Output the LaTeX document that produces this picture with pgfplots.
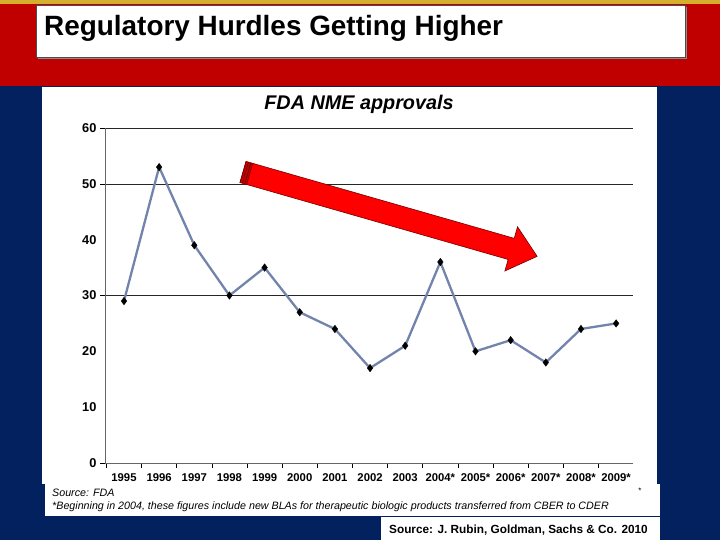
\documentclass[border=0pt]{standalone}
\usepackage{fontspec}
\setmainfont{Liberation Sans}
\usepackage{pgfplots}
\pgfplotsset{compat=1.18}
\definecolor{slidered}{HTML}{C00000}
\definecolor{slideblue}{HTML}{02215E}
\definecolor{gold}{HTML}{D4AE2C}
\definecolor{linecol}{HTML}{7384AC}
\begin{document}
\begin{tikzpicture}
\useasboundingbox (0pt,0pt) rectangle (720pt,540pt);
\fill[slideblue] (0pt,0pt) rectangle (720pt,540pt);
\fill[slidered] (0pt,454pt) rectangle (720pt,536pt);
\fill[gold] (0pt,536pt) rectangle (720pt,540pt);
% title box
\fill[black!45] (38pt,481pt) rectangle (687pt,533pt);
\filldraw[fill=white,draw=black!70,line width=0.6pt] (36pt,483pt) rectangle (685pt,535pt);
\node[anchor=base west,inner sep=0pt,font=\fontsize{27.9}{30}\selectfont\bfseries] at (44pt,504pt) {Regulatory Hurdles Getting Higher};
% panels
\fill[white] (42pt,56pt) rectangle (657pt,453pt);
\fill[white] (45pt,24pt) rectangle (660pt,56pt);
\fill[white] (381pt,0pt) rectangle (660pt,23pt);
\node[anchor=base west,inner sep=0pt,font=\fontsize{11.8}{13}\selectfont\bfseries] at (389pt,6pt) {Source: J. Rubin, Goldman, Sachs \& Co. 2010};
% chart title
\node[anchor=base,inner sep=0pt,font=\fontsize{19.8}{21}\selectfont\bfseries\itshape] at (359pt,430pt) {FDA NME approvals};
% footnotes
\node[anchor=base west,inner sep=0pt,font=\fontsize{10.7}{12}\selectfont\itshape] at (52pt,43pt) {Source: FDA};
\node[anchor=base west,inner sep=0pt,font=\fontsize{10.7}{12}\selectfont\itshape] at (52pt,30pt) {*Beginning in 2004, these figures include new BLAs for therapeutic biologic products transferred from CBER to CDER};
\node[anchor=base,inner sep=0pt,font=\fontsize{8}{8}\selectfont] at (640pt,46pt) {*};
\begin{axis}[
  at={(105pt,77pt)}, anchor=south west, scale only axis,
  width=528pt, height=335pt,
  xmin=-0.54, xmax=14.48, ymin=0, ymax=60,
  axis x line*=bottom, axis y line*=left,
  axis line style={-, black!60, line width=0.8pt},
  xtick={-0.5,0.5,...,14.5}, xticklabels={},
  major tick length=5pt, tick align=outside,
  tick style={black, line width=0.6pt},
  xticklabel style={yshift=-7pt, font=\fontsize{11.3}{12}\selectfont\bfseries},
  yticklabel style={xshift=-5pt, font=\fontsize{12.8}{13}\selectfont\bfseries},
  extra x ticks={0,1,...,14},
  extra x tick labels={1995,1996,1997,1998,1999,2000,2001,2002,2003,2004*,2005*,2006*,2007*,2008*,2009*},
  extra x tick style={major tick length=0pt},
  ytick={0,30,50,60}, yticklabels={},
  ymajorgrids, major grid style={black!85, line width=0.6pt},
  extra y ticks={0,10,...,60},
  extra y tick labels={0,10,20,30,40,50,60},
  extra y tick style={grid=none, major tick length=0pt},
  clip=false,
]
\addplot[color=linecol, line width=2.3pt, mark=diamond*, mark size=3.8pt,
  mark options={fill=black, draw=black, line width=0.3pt}]
  coordinates {(0,29)(1,53)(2,39)(3,30)(4,35)(5,27)(6,24)(7,17)(8,21)(9,36)(10,20)(11,22)(12,18)(13,24)(14,25)};
\end{axis}
% trend arrow
\begin{scope}[shift={(243pt,368pt)}, rotate=-16, x=1pt, y=1pt]
\filldraw[fill=red, draw=red!45!black, line width=0.6pt]
  (0,-11) -- (279,-11) -- (279,-23) -- (306,0) -- (279,23) -- (279,11) -- (0,11) -- cycle;
\fill[red!75!black] (0,-11) rectangle (7,11);
\draw[red!40!black, line width=0.5pt] (0,-11) -- (0,11) (2.5,-11) -- (2.5,11) (5,-11) -- (5,11) (7,-11) -- (7,11);
\end{scope}
\end{tikzpicture}
\end{document}
